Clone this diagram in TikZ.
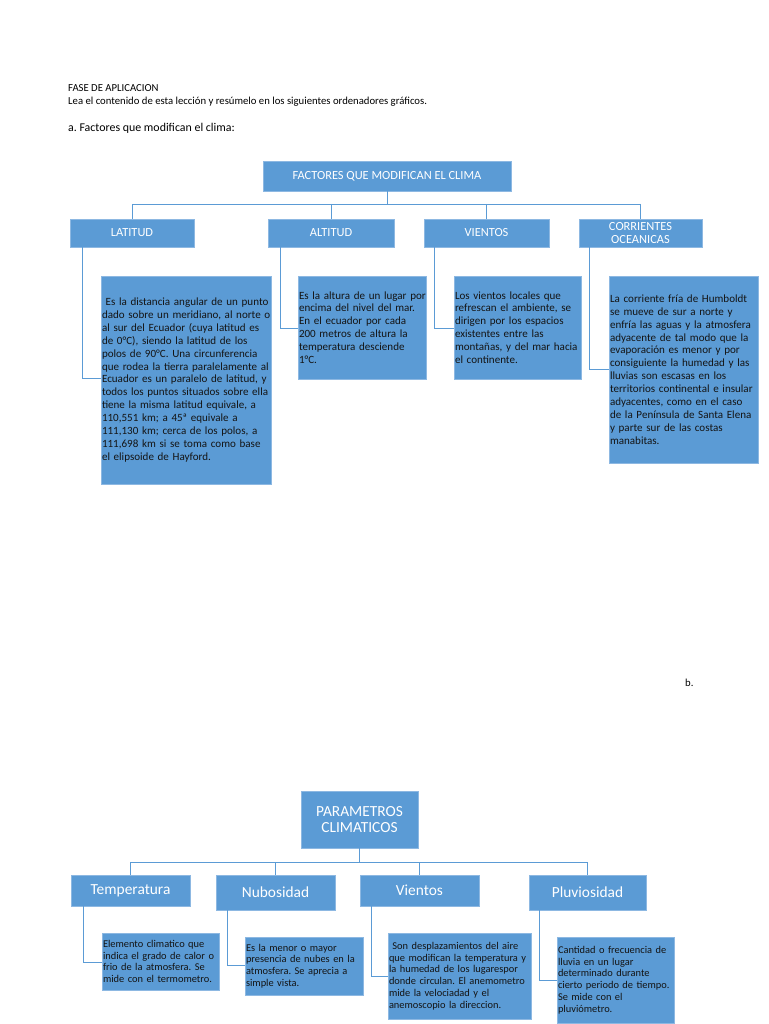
\documentclass[tikz,border=0pt]{standalone}
\usepackage{fontspec}
\setmainfont{Carlito}
\definecolor{boxblue}{HTML}{5B9BD5}
\definecolor{edgeblue}{HTML}{8DB8E2}
\definecolor{connblue}{HTML}{5B9BD5}
\definecolor{ink}{HTML}{141414}
\tikzset{
  lbl/.style={rectangle, fill=boxblue, draw=edgeblue, line width=0.7pt, text=white, align=center, inner sep=0pt},
  toplbl/.style={lbl, font=\fontsize{12.4}{13.3}\selectfont},
  botlbl/.style={lbl, font=\fontsize{15.4}{16}\selectfont},
  descbox/.style={rectangle, fill=boxblue, draw=edgeblue, line width=0.7pt, text=ink, align=left, inner xsep=1pt, inner ysep=0pt},
  topdesc/.style={descbox, font=\fontsize{11.05}{12.9}\selectfont},
  botdesc/.style={descbox, font=\fontsize{10.4}{11.7}\selectfont},
  conn/.style={draw=connblue, line width=0.8pt},
  hdr/.style={anchor=base west, inner sep=0pt, text=black},
}
\begin{document}
\frenchspacing
\begin{tikzpicture}[x=1pt,y=-1pt]
\useasboundingbox[fill=white] (0,0) rectangle (768,1024);

% header
\node[hdr, font=\fontsize{10.7}{12}\selectfont] (h1t) at (68,91.5) {FASE DE APLICACION};
\node[hdr, font=\fontsize{10.7}{12}\selectfont] (h2t) at (68,104.5) {Lea el contenido de esta lección y resúmelo en los siguientes ordenadores gráficos.};
\node[hdr, font=\fontsize{11.9}{13}\selectfont] (h3t) at (68,131.5) {a. Factores que modifican el clima:};
\node[hdr, font=\fontsize{10.7}{12}\selectfont] (bt) at (685,686) {b.};

% ---------- top diagram ----------
\node[toplbl, minimum width=248pt, minimum height=30pt] (M) at (387,176) {FACTORES QUE MODIFICAN EL CLIMA};
\node[toplbl, minimum width=124pt, minimum height=28pt] (L1) at (132,233) {LATITUD};
\node[toplbl, minimum width=126pt, minimum height=28pt] (L2) at (331,233) {ALTITUD};
\node[toplbl, minimum width=125pt, minimum height=28pt] (L3) at (486.5,233) {VIENTOS};
\node[toplbl, minimum width=123pt, minimum height=28pt] (L4) at (640.5,233) {CORRIENTES\\OCEANICAS};

\node[topdesc, text width=168pt, minimum height=208pt] (T1) at (186,380) {%
\mbox{\ Es la distancia angular de un punto}\\
\mbox{dado sobre un meridiano, al norte o}\\
\mbox{al sur del Ecuador (cuya latitud es}\\
\mbox{de 0°C), siendo la latitud de los}\\
\mbox{polos de 90°C. Una circunferencia}\\
\mbox{que rodea la tierra paralelamente al}\\
\mbox{Ecuador es un paralelo de latitud, y}\\
\mbox{todos los puntos situados sobre ella}\\
\mbox{tiene la misma latitud equivale, a}\\
\mbox{110,551 km; a 45ª equivale a}\\
\mbox{111,130 km; cerca de los polos, a}\\
\mbox{111,698 km si se toma como base}\\
\mbox{el elipsoide de Hayford.}};

\node[topdesc, text width=126pt, minimum height=103pt] (T2) at (362,327.5) {%
\mbox{Es la altura de un lugar por}\\
\mbox{encima del nivel del mar.}\\
\mbox{En el ecuador por cada}\\
\mbox{200 metros de altura la}\\
\mbox{temperatura desciende}\\
\mbox{1°C.}};

\node[topdesc, text width=125pt, minimum height=103pt] (T3) at (517.5,327.5) {%
\mbox{Los vientos locales que}\\
\mbox{refrescan el ambiente, se}\\
\mbox{dirigen por los espacios}\\
\mbox{existentes entre las}\\
\mbox{montañas, y del mar hacia}\\
\mbox{el continente.}};

\node[topdesc, text width=147pt, minimum height=187pt] (T4) at (683.5,369.5) {%
\mbox{La corriente fría de Humboldt}\\
\mbox{se mueve de sur a norte y}\\
\mbox{enfría las aguas y la atmosfera}\\
\mbox{adyacente de tal modo que la}\\
\mbox{evaporación es menor y por}\\
\mbox{consiguiente la humedad y las}\\
\mbox{lluvias son escasas en los}\\
\mbox{territorios continental e insular}\\
\mbox{adyacentes, como en el caso}\\
\mbox{de la Península de Santa Elena}\\
\mbox{y parte sur de las costas}\\
\mbox{manabitas.}};

\coordinate (hy) at (0,204);
\draw[conn] (M.south) -- (M.south |- hy);
\draw[conn] (L1.north |- hy) -- (L4.north |- hy);
\foreach \n in {L1,L2,L3,L4} \draw[conn] (\n.north |- hy) -- (\n.north);

\coordinate (k1) at (82,378);
\coordinate (k2) at (280,328);
\coordinate (k3) at (434,328);
\coordinate (k4) at (589,369);
\draw[conn] (L1.south -| k1) |- (T1.west |- k1);
\draw[conn] (L2.south -| k2) |- (T2.west |- k2);
\draw[conn] (L3.south -| k3) |- (T3.west |- k3);
\draw[conn] (L4.south -| k4) |- (T4.west |- k4);

% ---------- bottom diagram ----------
\node[botlbl, minimum width=117pt, minimum height=57pt] (P) at (359.5,819.5) {PARAMETROS\\CLIMATICOS};
\node[botlbl, minimum width=119pt, minimum height=31pt] (B1) at (130.5,890.5) {Temperatura};
\node[botlbl, minimum width=119pt, minimum height=35pt] (B2) at (275.5,892.5) {Nubosidad};
\node[botlbl, minimum width=119pt, minimum height=31pt] (B3) at (419.5,890.5) {Vientos};
\node[botlbl, minimum width=117pt, minimum height=35pt] (B4) at (587.5,892.5) {Pluviosidad};

\node[botdesc, text width=115pt, minimum height=57pt] (D1) at (160.5,961.5) {%
\mbox{Elemento climatico que}\\
\mbox{indica el grado de calor o}\\
\mbox{frio de la atmosfera. Se}\\
\mbox{mide con el termometro.}};

\node[botdesc, text width=116pt, minimum height=58pt] (D2) at (304,966) {%
\mbox{Es la menor o mayor}\\
\mbox{presencia de nubes en la}\\
\mbox{atmosfera. Se aprecia a}\\
\mbox{simple vista.}};

\node[botdesc, text width=141pt, minimum height=86pt] (D3) at (459.5,976) {%
\mbox{\ Son desplazamientos del aire}\\
\mbox{que modifican la temperatura y}\\
\mbox{la humedad de los lugarespor}\\
\mbox{donde circulan. El anemometro}\\
\mbox{mide la velociadad y el}\\
\mbox{anemoscopio la direccion.}};

\node[botdesc, text width=115pt, minimum height=86pt] (D4) at (615.5,980) {%
\mbox{Cantidad o frecuencia de}\\
\mbox{lluvia en un lugar}\\
\mbox{determinado durante}\\
\mbox{cierto periodo de tiempo.}\\
\mbox{Se mide con el}\\
\mbox{pluviómetro.}};

\coordinate (hb) at (0,862);
\draw[conn] (P.south) -- (P.south |- hb);
\draw[conn] (B1.north |- hb) -- (B4.north |- hb);
\foreach \n in {B1,B2,B3,B4} \draw[conn] (\n.north |- hb) -- (\n.north);

\coordinate (m1) at (83,962);
\coordinate (m2) at (227,965);
\coordinate (m3) at (371,976);
\coordinate (m4) at (539,980);
\draw[conn] (B1.south -| m1) |- (D1.west |- m1);
\draw[conn] (B2.south -| m2) |- (D2.west |- m2);
\draw[conn] (B3.south -| m3) |- (D3.west |- m3);
\draw[conn] (B4.south -| m4) |- (D4.west |- m4);
\end{tikzpicture}
\end{document}
